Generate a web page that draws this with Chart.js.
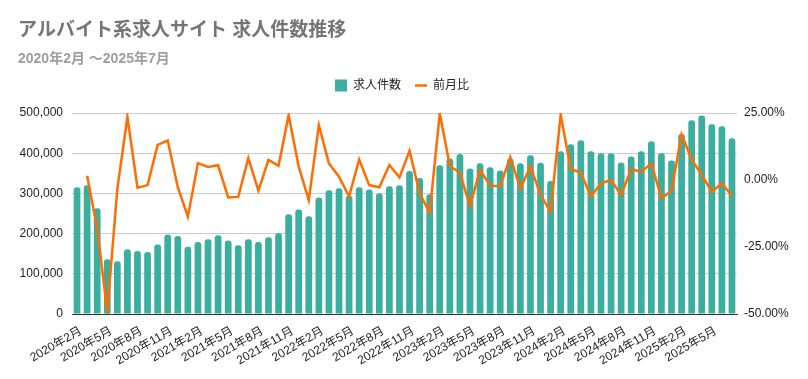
<!DOCTYPE html>
<html lang="ja">
<head>
<meta charset="utf-8">
<script src="https://cdn.jsdelivr.net/npm/chart.js@4"></script>
<style>
  html, body { margin: 0; padding: 0; background: #fff; }
  #wrap { width: 808px; height: 379px; position: relative; }
</style>
</head>
<body>
<div id="wrap"><canvas id="jobChart"></canvas></div>
<script>
'use strict'

const startYear = 2020;
const startMonth = 2;
const monthCount = 66;

const months = [];
for (let i = 0; i < monthCount; i++) {
    const m = startMonth - 1 + i;
    months.push(`${startYear + Math.floor(m / 12)}年${(m % 12) + 1}月`);
}

// 求人件数
const jobCounts = [
    315000, 320000, 263000, 136000, 131000, 161000, 157000, 154000, 173000, 198000,
    194000, 167000, 179000, 186000, 196000, 183000, 171000, 186000, 179000, 191000,
    201000, 248000, 260000, 243000, 290000, 308000, 313000, 294000, 315000, 310000,
    300000, 318000, 320000, 356000, 338000, 298000, 370000, 387000, 398000, 362000,
    375000, 365000, 357000, 387000, 375000, 395000, 376000, 331000, 405000, 422000,
    432000, 405000, 400000, 400000, 377000, 392000, 405000, 430000, 400000, 382000,
    448000, 482000, 494000, 472000, 467000, 437000
];

// 前月比 (%)
const momChange = [
    null, 1.6, -18.0, -49.0, -3.3, 23.5, -2.9, -1.9, 13.1, 14.7,
    -2.7, -13.7, 6.3, 4.9, 5.5, -6.5, -6.3, 8.2, -4.0, 7.5,
    5.3, 24.2, 5.0, -7.5, 20.5, 6.2, 1.2, -6.2, 7.7, -1.9,
    -2.7, 5.6, 1.0, 10.9, -5.0, -12.2, 24.9, 5.2, 2.7, -9.7,
    3.7, -2.1, -2.2, 8.5, -3.1, 5.0, -5.6, -11.8, 24.3, 4.1,
    2.7, -6.2, -1.2, 0.0, -5.6, 4.1, 3.0, 6.2, -6.8, -4.0,
    17.0, 7.7, 1.9, -4.4, -1.2, -6.0
];

const font = "'Liberation Sans', Arial, 'Noto Sans CJK JP', sans-serif";
const teal = '#3aafa0';
const orange = '#ff6d01';

// push the plot area down below the legend and nudge the legend into place
const legendGap = {
    id: 'legendGap',
    beforeInit(chart) {
        const fit = chart.legend.fit;
        chart.legend.fit = function () {
            fit.bind(chart.legend)();
            this.height += 9.4;
        };
    },
    afterLayout(chart) {
        const lg = chart.legend;
        lg.left -= 10;
        lg.right -= 10;
        lg.top -= 2;
        lg.bottom -= 2;
    }
};

const ctx = document.getElementById('jobChart').getContext('2d');
const jobChart = new Chart(ctx, {
    data: {
        labels: months,
        datasets: [{
            type: 'bar',
            label: '求人件数',
            data: jobCounts,
            backgroundColor: teal,
            borderWidth: 0,
            borderRadius: { topLeft: 3, topRight: 3 },
            borderSkipped: 'bottom',
            categoryPercentage: 1,
            barPercentage: 0.67,
            pointStyle: 'rect',
            yAxisID: 'y',
            order: 1
        }, {
            type: 'line',
            label: '前月比',
            data: momChange,
            borderColor: orange,
            backgroundColor: orange,
            borderWidth: 2.5,
            pointRadius: 0,
            tension: 0,
            spanGaps: false,
            pointStyle: 'line',
            yAxisID: 'y1',
            order: 0
        }]
    },
    options: {
        responsive: true,
        maintainAspectRatio: false,
        animation: false,
        layout: { padding: { left: 18, right: 2, top: 0, bottom: 0 } },
        plugins: {
            title: {
                display: true,
                text: 'アルバイト系求人サイト 求人件数推移',
                align: 'start',
                color: '#757575',
                font: { family: font, size: 19, weight: 'bold' },
                padding: { top: 19, bottom: 0 }
            },
            subtitle: {
                display: true,
                text: '2020年2月 ～2025年7月',
                align: 'start',
                color: '#9e9e9e',
                font: { family: font, size: 14, weight: 'bold' },
                padding: { top: 9, bottom: 0 }
            },
            legend: {
                display: true,
                position: 'top',
                labels: {
                    sort: (a, b) => a.datasetIndex - b.datasetIndex,
                    usePointStyle: true,
                    boxWidth: 16,
                    boxHeight: 12,
                    pointStyleWidth: 12,
                    padding: 14,
                    color: '#222',
                    font: { family: font, size: 12 }
                }
            },
            tooltip: { enabled: false }
        },
        scales: {
            x: {
                grid: { display: false },
                border: { display: true, color: '#333', width: 1 },
                ticks: {
                    autoSkip: false,
                    minRotation: 30,
                    maxRotation: 30,
                    labelOffset: 4,
                    color: '#222',
                    font: { family: font, size: 12 },
                    padding: 2,
                    callback: function (val, index) {
                        return index % 3 === 0 ? this.getLabelForValue(val) : '';
                    }
                },
                afterFit: (s) => { s.height = 65; }
            },
            y: {
                position: 'left',
                min: 0,
                max: 500000,
                grid: { color: '#cccccc', drawTicks: false },
                border: { display: false },
                ticks: {
                    stepSize: 100000,
                    padding: 9,
                    color: '#222',
                    font: { family: font, size: 12 },
                    callback: (v) => v.toLocaleString('en-US')
                },
                afterFit: (s) => { s.width = 54; }
            },
            y1: {
                position: 'right',
                min: -50,
                max: 25,
                grid: { display: false, drawTicks: false },
                border: { display: false },
                ticks: {
                    stepSize: 25,
                    padding: 7,
                    color: '#222',
                    font: { family: font, size: 12 },
                    callback: (v) => v.toFixed(2) + '%'
                },
                afterFit: (s) => { s.width = 69; }
            }
        }
    },
    plugins: [legendGap]
});
</script>
</body>
</html>
